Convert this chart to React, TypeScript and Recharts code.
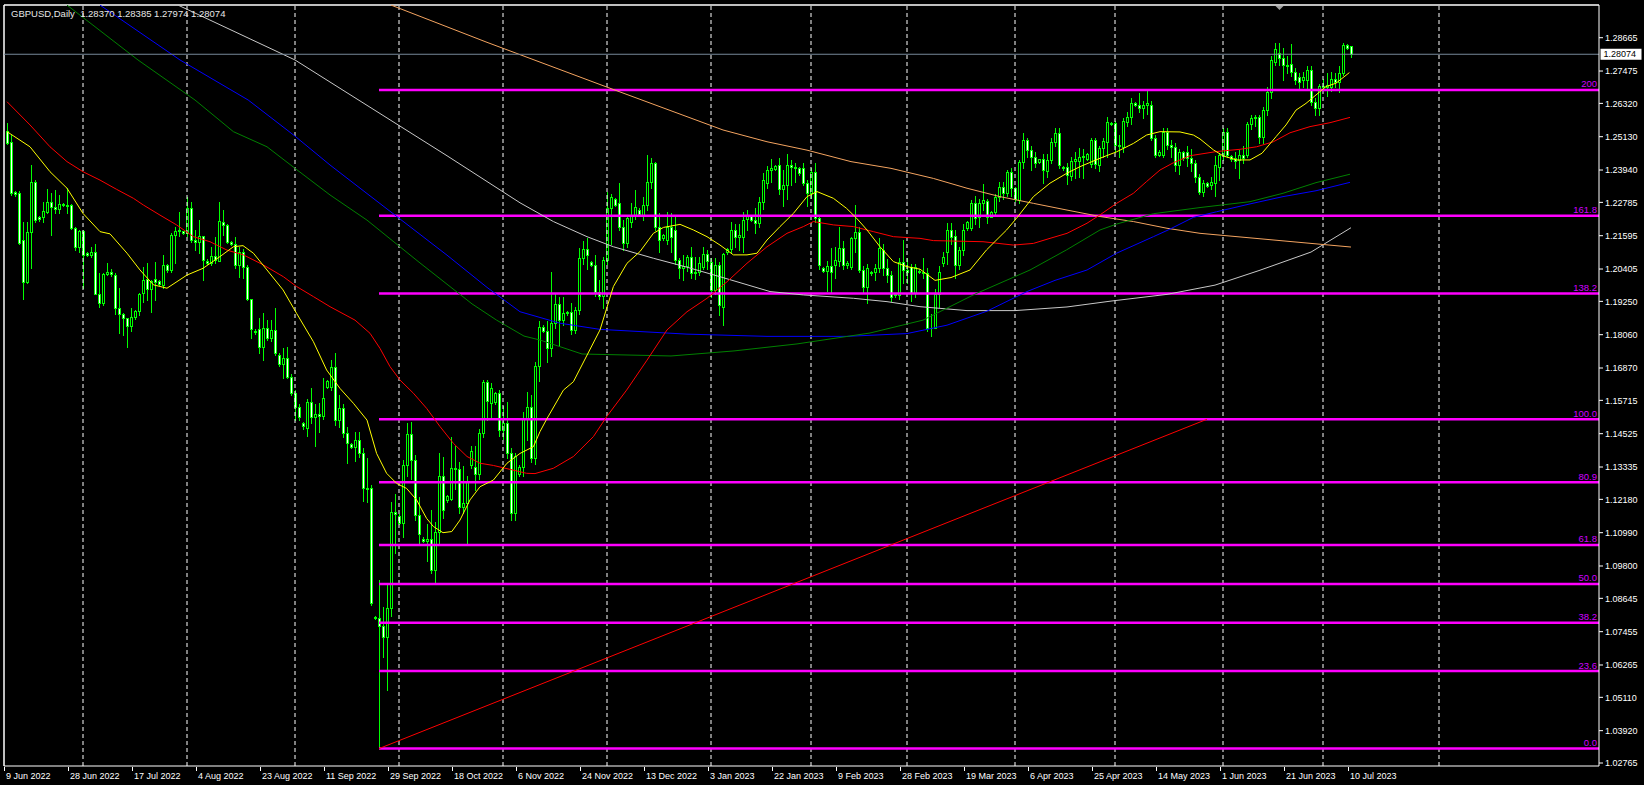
import React from 'react';
import { ComposedChart, Bar, Line, XAxis, YAxis, ReferenceLine } from 'recharts';

// ---------- layout constants ----------
const W = 1644;
const H = 785;
const X_MIN = -0.75;
const X_MAX = 398;
const Y_MIN = 1.02658;
const Y_MAX = 1.29833;
const PLOT_BOTTOM = 766;
const FONT = '"Liberation Sans", Arial, sans-serif';

// ---------- daily candles (bar index 0 = 9 Jun 2022 ... 336 = 10 Jul 2023) ----------
const OPEN = [
  1.2535, 1.2495, 1.2316, 1.2313, 1.2144, 1.1995, 1.2174, 1.2353, 1.2225, 1.2225,
  1.2245, 1.2281, 1.2263, 1.2254, 1.2272, 1.2268, 1.2269, 1.2186, 1.2120, 1.2176,
  1.2098, 1.2092, 1.2100, 1.1953, 1.1918, 1.2023, 1.2030, 1.2020, 1.1900, 1.1880,
  1.1866, 1.1838, 1.1868, 1.1892, 1.1954, 1.2004, 1.1968, 1.2004, 1.1998, 1.1983,
  1.2055, 1.2037, 1.2162, 1.2180, 1.2175, 1.2168, 1.2257, 1.2144, 1.2138, 1.2158,
  1.2068, 1.2061, 1.2087, 1.2069, 1.2209, 1.2198, 1.2138, 1.2129, 1.2055, 1.2103,
  1.2049, 1.1932, 1.1820, 1.1825, 1.1763, 1.1829, 1.1793, 1.1823, 1.1735, 1.1700,
  1.1721, 1.1656, 1.1596, 1.1546, 1.1490, 1.1472, 1.1567, 1.1511, 1.1521, 1.1517,
  1.1620, 1.1620, 1.1689, 1.1503, 1.1543, 1.1454, 1.1415, 1.1405, 1.1430, 1.1382,
  1.1260, 1.1257, 1.0799, 1.0793, 1.0764, 1.0726, 1.0829, 1.1174, 1.1159, 1.1135,
  1.1341, 1.1450, 1.1358, 1.1162, 1.1078, 1.1070, 1.1078, 1.0966, 1.1100, 1.1301,
  1.1215, 1.1220, 1.1331, 1.1325, 1.1190, 1.1205, 1.1340, 1.1335, 1.1308, 1.1456,
  1.1638, 1.1563, 1.1567, 1.1596, 1.1465, 1.1489, 1.1382, 1.1170, 1.1307, 1.1334,
  1.1510, 1.1549, 1.1367, 1.1694, 1.1834, 1.1820, 1.1760, 1.1847, 1.1915, 1.1859,
  1.1882, 1.1888, 1.1823, 1.1894, 1.2079, 1.2112, 1.2064, 1.2055, 1.1960, 1.1944,
  1.2073, 1.2257, 1.2290, 1.2275, 1.2192, 1.2132, 1.2210, 1.2234, 1.2251, 1.2234,
  1.2269, 1.2352, 1.2418, 1.2189, 1.2150, 1.2144, 1.2192, 1.2180, 1.2073, 1.2043,
  1.2050, 1.2085, 1.2025, 1.2030, 1.2049, 1.2094, 1.2067, 1.1966, 1.2055, 1.1906,
  1.2100, 1.2112, 1.2180, 1.2154, 1.2156, 1.2218, 1.2230, 1.2215, 1.2206, 1.2281,
  1.2347, 1.2394, 1.2397, 1.2412, 1.2325, 1.2340, 1.2412, 1.2405, 1.2400, 1.2400,
  1.2349, 1.2311, 1.2388, 1.2222, 1.2043, 1.2035, 1.2052, 1.2055, 1.2070, 1.2114,
  1.2055, 1.2049, 1.2150, 1.2174, 1.2037, 1.1978, 1.2031, 1.2031, 1.2043, 1.2108,
  1.2043, 1.2019, 1.1951, 1.1948, 1.2067, 1.2037, 1.2049, 1.1954, 1.2035, 1.2030,
  1.2025, 1.1830, 1.1830, 1.1950, 1.2061, 1.2100, 1.2180, 1.2159, 1.2055, 1.2109,
  1.2186, 1.2186, 1.2275, 1.2225, 1.2278, 1.2283, 1.2228, 1.2245, 1.2299, 1.2335,
  1.2311, 1.2388, 1.2329, 1.2287, 1.2424, 1.2501, 1.2465, 1.2439, 1.2424, 1.2432,
  1.2392, 1.2430, 1.2495, 1.2528, 1.2406, 1.2406, 1.2373, 1.2428, 1.2428, 1.2439,
  1.2432, 1.2416, 1.2501, 1.2412, 1.2471, 1.2495, 1.2561, 1.2561, 1.2483, 1.2477,
  1.2567, 1.2585, 1.2635, 1.2626, 1.2614, 1.2626, 1.2626, 1.2507, 1.2448, 1.2448,
  1.2531, 1.2483, 1.2477, 1.2412, 1.2460, 1.2460, 1.2436, 1.2418, 1.2370, 1.2317,
  1.2347, 1.2340, 1.2347, 1.2406, 1.2448, 1.2531, 1.2444, 1.2436, 1.2430, 1.2448,
  1.2448, 1.2558, 1.2579, 1.2582, 1.2513, 1.2608, 1.2674, 1.2781, 1.2813, 1.2793,
  1.2769, 1.2771, 1.2745, 1.2725, 1.2716, 1.2716, 1.2751, 1.2638, 1.2614, 1.2694,
  1.2690, 1.2692, 1.2718, 1.2710, 1.2742, 1.2840, 1.28370,
];
const HIGH = [
  1.2563, 1.2519, 1.2320, 1.2318, 1.2210, 1.2210, 1.2412, 1.2358, 1.2230, 1.2281,
  1.2325, 1.2311, 1.2323, 1.2305, 1.2275, 1.2330, 1.2273, 1.2192, 1.2180, 1.2180,
  1.2100, 1.2120, 1.2130, 1.2025, 1.2025, 1.2061, 1.2040, 1.2025, 1.1972, 1.1882,
  1.1866, 1.1900, 1.1895, 1.1956, 1.2049, 1.2063, 1.2001, 1.2067, 1.2000, 1.2090,
  1.2060, 1.2168, 1.2192, 1.2245, 1.2178, 1.2299, 1.2281, 1.2180, 1.2216, 1.2160,
  1.2075, 1.2120, 1.2156, 1.2281, 1.2251, 1.2203, 1.2140, 1.2156, 1.2120, 1.2111,
  1.2055, 1.1935, 1.1825, 1.1864, 1.1882, 1.1858, 1.1860, 1.1900, 1.1740, 1.1760,
  1.1763, 1.1665, 1.1610, 1.1560, 1.1495, 1.1575, 1.1614, 1.1560, 1.1561, 1.1650,
  1.1645, 1.1715, 1.1739, 1.1590, 1.1560, 1.1475, 1.1420, 1.1460, 1.1458, 1.1400,
  1.1364, 1.1270, 1.0800, 1.0930, 1.0835, 1.0918, 1.1210, 1.1238, 1.1165, 1.1359,
  1.1490, 1.1495, 1.1378, 1.1226, 1.1085, 1.1130, 1.1180, 1.1138, 1.1382, 1.1370,
  1.1235, 1.1440, 1.1410, 1.1350, 1.1337, 1.1300, 1.1410, 1.1410, 1.1470, 1.1645,
  1.1645, 1.1635, 1.1600, 1.1610, 1.1550, 1.1565, 1.1400, 1.1385, 1.1340, 1.1530,
  1.1602, 1.1590, 1.1710, 1.1855, 1.1840, 1.1855, 1.2030, 1.1954, 1.1940, 1.1940,
  1.1890, 1.1918, 1.1905, 1.2114, 1.2142, 1.2150, 1.2068, 1.2091, 1.2000, 1.2085,
  1.2316, 1.2310, 1.2295, 1.2349, 1.2215, 1.2235, 1.2275, 1.2323, 1.2260, 1.2299,
  1.2448, 1.2436, 1.2424, 1.2240, 1.2165, 1.2245, 1.2240, 1.2228, 1.2079, 1.2090,
  1.2090, 1.2120, 1.2085, 1.2085, 1.2120, 1.2110, 1.2080, 1.2080, 1.2065, 1.2097,
  1.2115, 1.2210, 1.2200, 1.2200, 1.2245, 1.2251, 1.2235, 1.2260, 1.2299, 1.2382,
  1.2410, 1.2435, 1.2412, 1.2436, 1.2395, 1.2451, 1.2430, 1.2418, 1.2405, 1.2418,
  1.2360, 1.2400, 1.2418, 1.2230, 1.2048, 1.2070, 1.2114, 1.2120, 1.2190, 1.2140,
  1.2068, 1.2155, 1.2269, 1.2190, 1.2050, 1.2060, 1.2035, 1.2060, 1.2150, 1.2130,
  1.2075, 1.2035, 1.1955, 1.2080, 1.2144, 1.2080, 1.2060, 1.2060, 1.2040, 1.2080,
  1.2045, 1.1880, 1.1970, 1.2050, 1.2100, 1.2205, 1.2205, 1.2180, 1.2120, 1.2200,
  1.2212, 1.2287, 1.2300, 1.2290, 1.2343, 1.2290, 1.2248, 1.2310, 1.2353, 1.2350,
  1.2394, 1.2400, 1.2332, 1.2430, 1.2525, 1.2510, 1.2480, 1.2460, 1.2435, 1.2452,
  1.2450, 1.2510, 1.2543, 1.2545, 1.2410, 1.2420, 1.2440, 1.2460, 1.2471, 1.2470,
  1.2455, 1.2510, 1.2510, 1.2480, 1.2510, 1.2585, 1.2565, 1.2570, 1.2520, 1.2580,
  1.2600, 1.2650, 1.2638, 1.2668, 1.2640, 1.2682, 1.2640, 1.2520, 1.2465, 1.2545,
  1.2545, 1.2500, 1.2490, 1.2470, 1.2462, 1.2480, 1.2470, 1.2430, 1.2380, 1.2360,
  1.2350, 1.2370, 1.2445, 1.2455, 1.2545, 1.2545, 1.2448, 1.2460, 1.2465, 1.2480,
  1.2565, 1.2590, 1.2590, 1.2590, 1.2620, 1.2690, 1.2800, 1.2849, 1.2848, 1.2830,
  1.2800, 1.2844, 1.2760, 1.2740, 1.2745, 1.2765, 1.2765, 1.2650, 1.2700, 1.2720,
  1.2740, 1.2745, 1.2740, 1.2765, 1.2848, 1.2845, 1.28385,
];
const LOW = [
  1.2488, 1.2305, 1.2303, 1.2130, 1.1933, 1.1990, 1.2043, 1.2210, 1.2212, 1.2210,
  1.2240, 1.2162, 1.2240, 1.2240, 1.2265, 1.2240, 1.2183, 1.2108, 1.2103, 1.1972,
  1.2088, 1.2085, 1.1950, 1.1906, 1.1912, 1.2019, 1.2017, 1.1880, 1.1811, 1.1805,
  1.1761, 1.1820, 1.1862, 1.1876, 1.1924, 1.1930, 1.1888, 1.1930, 1.1985, 1.1972,
  1.2030, 1.2031, 1.2062, 1.2160, 1.2165, 1.2160, 1.2138, 1.2110, 1.2097, 1.2001,
  1.2060, 1.2055, 1.2061, 1.2069, 1.2162, 1.2135, 1.2125, 1.2043, 1.2013, 1.2007,
  1.1930, 1.1793, 1.1810, 1.1740, 1.1716, 1.1787, 1.1785, 1.1735, 1.1695, 1.1650,
  1.1650, 1.1590, 1.1500, 1.1500, 1.1470, 1.1444, 1.1490, 1.1410, 1.1460, 1.1505,
  1.1615, 1.1610, 1.1483, 1.1475, 1.1440, 1.1347, 1.1400, 1.1356, 1.1370, 1.1212,
  1.1210, 1.0840, 1.0790, 1.0335, 1.0656, 1.0537, 1.0800, 1.1025, 1.1130, 1.1085,
  1.1300, 1.1290, 1.1145, 1.1055, 1.1065, 1.0999, 1.0954, 1.0924, 1.1061, 1.1150,
  1.1210, 1.1215, 1.1255, 1.1170, 1.1170, 1.1061, 1.1330, 1.1250, 1.1290, 1.1440,
  1.1502, 1.1508, 1.1560, 1.1445, 1.1435, 1.1365, 1.1145, 1.1145, 1.1300, 1.1300,
  1.1430, 1.1350, 1.1345, 1.1640, 1.1815, 1.1710, 1.1730, 1.1830, 1.1765, 1.1840,
  1.1875, 1.1810, 1.1812, 1.1880, 1.2060, 1.2040, 1.2050, 1.1945, 1.1935, 1.1900,
  1.2060, 1.2130, 1.2265, 1.2180, 1.2110, 1.2120, 1.2190, 1.2220, 1.2235, 1.2215,
  1.2250, 1.2330, 1.2180, 1.2100, 1.2145, 1.2130, 1.2100, 1.2060, 1.2007, 1.2000,
  1.2035, 1.2010, 1.2005, 1.2020, 1.2040, 1.2040, 1.1940, 1.1950, 1.1876, 1.1841,
  1.2095, 1.2100, 1.2120, 1.2110, 1.2100, 1.2180, 1.2212, 1.2170, 1.2190, 1.2255,
  1.2330, 1.2350, 1.2395, 1.2310, 1.2265, 1.2290, 1.2340, 1.2350, 1.2378, 1.2340,
  1.2265, 1.2295, 1.2210, 1.2040, 1.2030, 1.1962, 1.1960, 1.2010, 1.2050, 1.2040,
  1.2045, 1.2040, 1.2100, 1.2030, 1.1960, 1.1918, 1.2020, 1.2000, 1.2030, 1.2020,
  1.1995, 1.1925, 1.1940, 1.1935, 1.1990, 1.1990, 1.1925, 1.1940, 1.2025, 1.2010,
  1.1818, 1.1802, 1.1830, 1.1905, 1.2050, 1.2060, 1.2130, 1.2010, 1.2040, 1.2090,
  1.2180, 1.2180, 1.2200, 1.2190, 1.2250, 1.2205, 1.2225, 1.2230, 1.2285, 1.2290,
  1.2300, 1.2300, 1.2285, 1.2275, 1.2400, 1.2440, 1.2394, 1.2405, 1.2420, 1.2347,
  1.2370, 1.2420, 1.2480, 1.2400, 1.2395, 1.2345, 1.2360, 1.2365, 1.2370, 1.2366,
  1.2430, 1.2405, 1.2400, 1.2390, 1.2440, 1.2440, 1.2555, 1.2460, 1.2440, 1.2460,
  1.2550, 1.2560, 1.2624, 1.2600, 1.2580, 1.2595, 1.2500, 1.2440, 1.2445, 1.2440,
  1.2470, 1.2440, 1.2390, 1.2380, 1.2430, 1.2410, 1.2390, 1.2350, 1.2308, 1.2300,
  1.2335, 1.2325, 1.2300, 1.2360, 1.2430, 1.2440, 1.2428, 1.2400, 1.2365, 1.2420,
  1.2440, 1.2540, 1.2550, 1.2490, 1.2490, 1.2590, 1.2650, 1.2770, 1.2770, 1.2716,
  1.2740, 1.2730, 1.2700, 1.2685, 1.2690, 1.2680, 1.2625, 1.2590, 1.2590, 1.2680,
  1.2660, 1.2675, 1.2690, 1.2674, 1.2735, 1.2825, 1.27974,
];
const CLOSE = [
  1.2492, 1.2311, 1.2310, 1.2135, 1.1995, 1.2174, 1.2353, 1.2215, 1.2218, 1.2248,
  1.2281, 1.2263, 1.2254, 1.2273, 1.2268, 1.2265, 1.2186, 1.2120, 1.2176, 1.2091,
  1.2092, 1.2100, 1.1953, 1.1918, 1.2023, 1.2030, 1.2022, 1.1900, 1.1880, 1.1866,
  1.1838, 1.1868, 1.1892, 1.1951, 1.2001, 1.1968, 1.1998, 1.1995, 1.1986, 1.2055,
  1.2037, 1.2162, 1.2176, 1.2175, 1.2170, 1.2257, 1.2144, 1.2138, 1.2158, 1.2073,
  1.2063, 1.2087, 1.2073, 1.2213, 1.2198, 1.2138, 1.2129, 1.2055, 1.2103, 1.2049,
  1.1932, 1.1825, 1.1817, 1.1763, 1.1829, 1.1793, 1.1823, 1.1740, 1.1700, 1.1721,
  1.1656, 1.1596, 1.1546, 1.1513, 1.1480, 1.1567, 1.1511, 1.1521, 1.1517, 1.1580,
  1.1640, 1.1689, 1.1503, 1.1543, 1.1454, 1.1420, 1.1405, 1.1430, 1.1382, 1.1257,
  1.1255, 1.0849, 1.0793, 1.0764, 1.0726, 1.0829, 1.1174, 1.1165, 1.1135, 1.1341,
  1.1450, 1.1358, 1.1162, 1.1094, 1.1070, 1.1078, 1.0966, 1.1100, 1.1301, 1.1180,
  1.1230, 1.1331, 1.1325, 1.1190, 1.1205, 1.1280, 1.1390, 1.1308, 1.1456, 1.1638,
  1.1569, 1.1614, 1.1596, 1.1465, 1.1489, 1.1382, 1.1170, 1.1373, 1.1334, 1.1510,
  1.1549, 1.1367, 1.1694, 1.1834, 1.1820, 1.1760, 1.1847, 1.1915, 1.1859, 1.1885,
  1.1888, 1.1823, 1.1894, 1.2079, 1.2112, 1.2091, 1.2055, 1.1960, 1.1944, 1.2073,
  1.2257, 1.2299, 1.2269, 1.2192, 1.2132, 1.2222, 1.2234, 1.2263, 1.2238, 1.2269,
  1.2352, 1.2418, 1.2192, 1.2144, 1.2162, 1.2192, 1.2156, 1.2073, 1.2043, 1.2050,
  1.2085, 1.2025, 1.2030, 1.2061, 1.2094, 1.2070, 1.1966, 1.2055, 1.1912, 1.2094,
  1.2112, 1.2180, 1.2154, 1.2162, 1.2216, 1.2234, 1.2215, 1.2206, 1.2281, 1.2358,
  1.2394, 1.2400, 1.2408, 1.2325, 1.2340, 1.2412, 1.2405, 1.2400, 1.2382, 1.2349,
  1.2311, 1.2388, 1.2222, 1.2055, 1.2035, 1.2052, 1.2030, 1.2073, 1.2114, 1.2055,
  1.2063, 1.2150, 1.2174, 1.2037, 1.1978, 1.2043, 1.2025, 1.2043, 1.2114, 1.2043,
  1.2019, 1.1942, 1.1948, 1.2067, 1.2037, 1.2031, 1.1954, 1.2049, 1.2030, 1.2025,
  1.1830, 1.1830, 1.1950, 1.2030, 1.2085, 1.2180, 1.2156, 1.2055, 1.2109, 1.2180,
  1.2210, 1.2275, 1.2222, 1.2278, 1.2287, 1.2228, 1.2245, 1.2299, 1.2335, 1.2311,
  1.2388, 1.2329, 1.2290, 1.2424, 1.2501, 1.2465, 1.2439, 1.2420, 1.2432, 1.2394,
  1.2430, 1.2495, 1.2528, 1.2412, 1.2400, 1.2376, 1.2428, 1.2432, 1.2439, 1.2444,
  1.2451, 1.2501, 1.2416, 1.2471, 1.2498, 1.2567, 1.2558, 1.2483, 1.2480, 1.2569,
  1.2585, 1.2635, 1.2626, 1.2614, 1.2626, 1.2632, 1.2510, 1.2448, 1.2460, 1.2531,
  1.2483, 1.2477, 1.2412, 1.2460, 1.2436, 1.2436, 1.2418, 1.2370, 1.2317, 1.2347,
  1.2338, 1.2350, 1.2412, 1.2448, 1.2531, 1.2448, 1.2432, 1.2428, 1.2448, 1.2436,
  1.2558, 1.2579, 1.2582, 1.2513, 1.2608, 1.2674, 1.2787, 1.2825, 1.2793, 1.2769,
  1.2764, 1.2745, 1.2715, 1.2710, 1.2725, 1.2751, 1.2638, 1.2614, 1.2694, 1.2690,
  1.2697, 1.2718, 1.2710, 1.2742, 1.2840, 1.2829, 1.28074,
];

// ---------- moving averages as [bar index, price] ----------
const MA_YELLOW: [number, number][] = [
  [0, 1.2531], [5.75, 1.2477], [10.75, 1.2388], [15, 1.2329], [19, 1.2239], [23.25, 1.2174], [25.75, 1.2166],
  [30, 1.2097], [33.25, 1.2037], [36.6, 1.1984], [40, 1.1972], [45, 1.2019], [49, 1.2043], [53.25, 1.2085],
  [56.6, 1.2120], [59, 1.2124], [61.6, 1.2097], [65, 1.2037], [69, 1.1966], [72.4, 1.1882], [76.6, 1.1781],
  [79.9, 1.1680], [83.25, 1.1614], [86.6, 1.1561], [90, 1.1501], [92.4, 1.1382], [94.9, 1.1311], [97.4, 1.1275],
  [99.9, 1.1257], [102.4, 1.1216], [104.9, 1.1150], [106.6, 1.1121], [109, 1.1099], [111.2, 1.1103],
  [113.25, 1.1144], [115.75, 1.1216], [118.25, 1.1263], [121.6, 1.1287], [125, 1.1347], [128.25, 1.1382],
  [131.6, 1.1406], [133.25, 1.1460], [134.9, 1.1504], [139.1, 1.1608], [141.6, 1.1638], [148.25, 1.1823],
  [151.6, 1.1978], [155, 1.2061], [158.25, 1.2103], [161.6, 1.2168], [164.1, 1.2189], [168.25, 1.2200],
  [171.6, 1.2180], [175, 1.2156], [178.25, 1.2126], [181.6, 1.2091], [185, 1.2091], [187.5, 1.2097],
  [190, 1.2144], [193.25, 1.2192], [196.6, 1.2239], [200, 1.2299], [202.5, 1.2317], [206.6, 1.2293],
  [209.9, 1.2257], [212.4, 1.2222], [215, 1.2180], [218.25, 1.2120], [221.6, 1.2067], [225, 1.2049],
  [228.25, 1.2040], [232, 1.2000], [236, 1.2010], [240.75, 1.2037], [244.9, 1.2109], [249.9, 1.2180],
  [252.4, 1.2222], [256.6, 1.2299], [260.75, 1.2347], [264.9, 1.2382], [268.25, 1.2406], [273.25, 1.2436],
  [277.4, 1.2459], [281.6, 1.2489], [284.9, 1.2519], [288.25, 1.2531], [293.25, 1.2530], [296.6, 1.2519],
  [298.25, 1.2505], [301.6, 1.2466], [304.1, 1.2444], [307.4, 1.2430], [310.75, 1.2430], [313.75, 1.2454],
  [317.25, 1.2513], [319.75, 1.2555], [322.25, 1.2608], [324.75, 1.2632], [327.25, 1.2662], [329.75, 1.2692],
  [332.25, 1.2704], [335.6, 1.2742],
];
const MA_RED: [number, number][] = [
  [0, 1.2638], [5.75, 1.2555], [10.75, 1.2477], [15, 1.2424], [19, 1.2388], [23.25, 1.2358], [27.4, 1.2325],
  [31.6, 1.2293], [34.1, 1.2269], [38.25, 1.2233], [42.4, 1.2198], [46.6, 1.2156], [50.75, 1.2138], [55, 1.2108],
  [59.1, 1.2091], [64.1, 1.2055], [69.1, 1.2013], [72.4, 1.1978], [76.6, 1.1942], [80.75, 1.1906], [87, 1.1858],
  [90.75, 1.1811], [93.25, 1.1757], [95.75, 1.1692], [98.25, 1.1644], [101.6, 1.1597], [104.9, 1.1543],
  [108.25, 1.1478], [111.6, 1.1418], [115, 1.1371], [118.25, 1.1347], [121.6, 1.1339], [125.75, 1.1325],
  [129.9, 1.1311], [132, 1.1310], [136.6, 1.1329], [141.6, 1.1371], [146.6, 1.1442], [149.9, 1.1513],
  [154.9, 1.1608], [160, 1.1715], [165, 1.1823], [170, 1.1888], [175, 1.1936], [180, 1.1995], [185, 1.2061],
  [190, 1.2120], [195, 1.2168], [199.1, 1.2192], [201.6, 1.2210], [206.6, 1.2198], [211.6, 1.2192],
  [216.6, 1.2174], [221.6, 1.2156], [228.25, 1.2150], [231.6, 1.2142], [244, 1.2138], [251.6, 1.2126],
  [256.6, 1.2132], [260.75, 1.2150], [265, 1.2168], [270, 1.2204], [273.25, 1.2234], [277.4, 1.2275],
  [281.6, 1.2311], [284.9, 1.2353], [288.25, 1.2394], [291.6, 1.2420], [295.75, 1.2445], [302.4, 1.2460],
  [308.25, 1.2468], [312.4, 1.2477], [316.6, 1.2495], [320.75, 1.2527], [325.75, 1.2549], [330.75, 1.2563],
  [335.75, 1.2582],
];
const MA_GREEN: [number, number][] = [
  [15, 1.2983], [32.75, 1.2787], [47, 1.2644], [56.6, 1.2531], [65, 1.2477], [72, 1.2400], [80.75, 1.2305],
  [90, 1.2215], [103, 1.2065], [116.25, 1.1916], [122.4, 1.1858], [129.25, 1.1801], [133.25, 1.1787],
  [143.75, 1.1737], [166, 1.1730], [181.75, 1.1748], [197.5, 1.1773], [215.75, 1.1812], [229, 1.1858],
  [242, 1.1951], [255.75, 1.2037], [264.9, 1.2109], [273.25, 1.2180], [277.4, 1.2201], [286.6, 1.2238],
  [298.25, 1.2260], [310.75, 1.2281], [319, 1.2311], [327.25, 1.2349], [335.75, 1.2379],
];
const MA_BLUE: [number, number][] = [
  [23.25, 1.2983], [43.25, 1.2787], [60.3, 1.2644], [72, 1.2515], [80.75, 1.2412], [90, 1.2310], [100, 1.2200],
  [110, 1.2090], [120, 1.1975], [128.25, 1.1888], [138.25, 1.1847], [148.25, 1.1825], [170, 1.1808],
  [190, 1.1800], [210, 1.1800], [225, 1.1810], [235, 1.1840], [245, 1.1890], [255, 1.1960], [262, 1.2000],
  [270, 1.2037], [277.4, 1.2097], [286.6, 1.2156], [290.3, 1.2180], [296.6, 1.2225], [302.4, 1.2245],
  [310.75, 1.2273], [319, 1.2299], [327.25, 1.2320], [335.75, 1.2350],
];
const MA_SILVER: [number, number][] = [
  [42.75, 1.2983], [72, 1.2787], [90, 1.2625], [110, 1.2445], [128.25, 1.2277], [136.6, 1.2210], [145, 1.2156],
  [151.6, 1.2120], [161.6, 1.2079], [170, 1.2047], [178.25, 1.2013], [190.75, 1.1960], [199.1, 1.1948],
  [211.6, 1.1936], [220, 1.1924], [228.25, 1.1906], [240, 1.1892], [252, 1.1892], [265, 1.1905], [276, 1.1926],
  [290, 1.1950], [302, 1.1983], [313, 1.2035], [326, 1.2101], [336, 1.2188],
];
const MA_SANDY: [number, number][] = [
  [96, 1.2983], [120, 1.2850], [150, 1.2690], [179, 1.2537], [190, 1.2495], [200, 1.2465], [211, 1.2424],
  [221, 1.2400], [231.6, 1.2364], [240, 1.2329], [248.25, 1.2299], [256.6, 1.2275], [265, 1.2251],
  [273.25, 1.2228], [281.6, 1.2210], [290, 1.2186], [298.25, 1.2168], [336, 1.2119],
];

// ---------- Fibonacci retracement ----------
const FIB_START = 93;
const FIB_LEVELS: [string, number][] = [
  ['0.0', 1.0328], ['23.6', 1.0605], ['38.2', 1.0777], ['50.0', 1.0916], ['61.8', 1.1055],
  ['80.9', 1.1279], ['100.0', 1.1504], ['138.2', 1.1953], ['161.8', 1.2231], ['200', 1.2680],
];
const FIB_TREND: [number, number][] = [[93, 1.0328], [300, 1.1504]];

// ---------- axes ----------
const Y_TICKS = [
  1.28665, 1.27475, 1.2632, 1.2513, 1.2394, 1.22785, 1.21595, 1.20405, 1.1925, 1.1806, 1.1687, 1.15715,
  1.14525, 1.13335, 1.1218, 1.1099, 1.098, 1.08645, 1.07455, 1.06265, 1.0511, 1.0392, 1.02765,
];
const DATE_LABELS: [number, string][] = [
  [0, '9 Jun 2022'], [16, '28 Jun 2022'], [32, '17 Jul 2022'], [48, '4 Aug 2022'], [64, '23 Aug 2022'],
  [80, '11 Sep 2022'], [96, '29 Sep 2022'], [112, '18 Oct 2022'], [128, '6 Nov 2022'], [144, '24 Nov 2022'],
  [160, '13 Dec 2022'], [176, '3 Jan 2023'], [192, '22 Jan 2023'], [208, '9 Feb 2023'], [224, '28 Feb 2023'],
  [240, '19 Mar 2023'], [256, '6 Apr 2023'], [272, '25 Apr 2023'], [288, '14 May 2023'], [304, '1 Jun 2023'],
  [320, '21 Jun 2023'], [336, '10 Jul 2023'],
];
const MONTH_GRID = [19, 45, 72, 98, 124, 150, 176, 201, 225, 252, 277, 304, 329, 358];

const SYMBOL = 'GBPUSD,Daily';

// ---------- derived structures ----------
const candles = OPEN.map((o, i) => ({ i, open: o, high: HIGH[i], low: LOW[i], close: CLOSE[i] }));
const toLine = (pts: [number, number][]) => pts.map(([i, v]) => ({ i, v }));
const LAST = OPEN.length - 1;
const dateMap = new Map(DATE_LABELS);

const Candle = (props: any) => {
  const { x, y, width, height, payload } = props;
  if (!payload || x == null || y == null) return null;
  const { open, high, low, close } = payload;
  const top = Math.min(y, y + height);
  const h = Math.abs(height);
  const range = high - low;
  const k = range > 0 ? h / range : 0;
  const yOf = (v: number) => top + (high - v) * k;
  const cx = Math.round(x + width / 2 + 0.25) + 0.5;
  const yh = Math.round(yOf(high));
  const yl = Math.round(yOf(low));
  const bt = Math.round(yOf(Math.max(open, close)));
  const bb = Math.round(yOf(Math.min(open, close)));
  const bh = Math.max(1, bb - bt + 1);
  const bull = close >= open;
  return (
    <g>
      <rect x={cx - 0.5} y={yh} width={1} height={Math.max(1, yl - yh + 1)} fill="#00FF00" />
      <rect x={cx - 1.5} y={bt} width={3} height={bh} fill="#00FF00" />
      {bh >= 3 && <rect x={cx - 0.5} y={bt + 1} width={1} height={bh - 2} fill={bull ? '#000000' : '#FFFFFF'} />}
    </g>
  );
};

const DateTick = (props: any) => {
  const { x, payload } = props;
  const label = dateMap.get(payload.value);
  if (label == null) return null;
  const px = Math.round(x);
  return (
    <g>
      <rect x={px - 3} y={PLOT_BOTTOM + 1} width={1} height={4} fill="#FFFFFF" />
      <text x={px - 1} y={PLOT_BOTTOM + 13} fill="#FFFFFF" fontSize={9} fontFamily={FONT} textAnchor="start">
        {label}
      </text>
    </g>
  );
};

const fibLabel = (text: string) => (props: any) => {
  const vb = props.viewBox || {};
  const right = (vb.x || 0) + (vb.width || 0);
  return (
    <text x={right - 2} y={(vb.y || 0) - 2.5} textAnchor="end" fill="#D000FF" fontSize={9.5} fontFamily={FONT}>
      {text}
    </text>
  );
};

const priceLabel = (props: any) => {
  const vb = props.viewBox || {};
  const x = (vb.x || 0) + (vb.width || 0) + 1.5;
  const y = vb.y || 0;
  return (
    <g>
      <rect x={x} y={y - 5.5} width={41} height={11} fill="#FFFFFF" />
      <text x={x + 3} y={y + 3.2} fill="#000000" fontSize={9} fontFamily={FONT}>
        {CLOSE[LAST].toFixed(5)}
      </text>
    </g>
  );
};

const ShiftMarker = (props: any) => {
  const vb = props.viewBox || {};
  const x = Math.round(vb.x || 0) + 0.5;
  const y = 6;
  return <polygon points={`${x - 4},${y} ${x + 4},${y} ${x},${y + 4}`} fill="#A0A0A0" />;
};

const MA_LINES: [string, [number, number][]][] = [
  ['#C8C8C8', MA_SILVER],
  ['#F4A460', MA_SANDY],
  ['#0000FF', MA_BLUE],
  ['#008000', MA_GREEN],
  ['#FF0000', MA_RED],
  ['#FFFF00', MA_YELLOW],
];

export default function App() {
  const header = `${SYMBOL}  ${OPEN[LAST].toFixed(5)} ${HIGH[LAST].toFixed(5)} ${LOW[LAST].toFixed(5)} ${CLOSE[LAST].toFixed(5)}`;
  return (
    <div style={{ position: 'fixed', left: 0, top: 0, width: W, height: H, background: '#000000', overflow: 'hidden' }}>
      <ComposedChart
        width={W}
        height={H}
        data={candles}
        margin={{ top: 5, right: 0, bottom: 0, left: 4 }}
        style={{ background: '#000000' }}
      >
        <XAxis
          type="number"
          dataKey="i"
          domain={[X_MIN, X_MAX]}
          allowDataOverflow
          ticks={DATE_LABELS.map((d) => d[0])}
          interval={0}
          height={19}
          tickLine={false}
          axisLine={{ stroke: '#FFFFFF' }}
          tick={<DateTick />}
        />
        <YAxis
          type="number"
          orientation="right"
          domain={[Y_MIN, Y_MAX]}
          allowDataOverflow
          ticks={Y_TICKS}
          interval={0}
          width={45}
          tickSize={4}
          tickMargin={2}
          tickFormatter={(v: number) => v.toFixed(5)}
          axisLine={{ stroke: '#FFFFFF' }}
          tickLine={{ stroke: '#FFFFFF' }}
          tick={{ fill: '#FFFFFF', fontSize: 9, fontFamily: FONT }}
        />

        {MONTH_GRID.map((g) => (
          <ReferenceLine key={`g${g}`} x={g} stroke="#FFFFFF" strokeDasharray="4 3" strokeWidth={1} />
        ))}

        <ReferenceLine y={Y_MAX} stroke="#FFFFFF" strokeWidth={1.5} />
        <ReferenceLine x={X_MIN} stroke="#FFFFFF" strokeWidth={1.5} />

        {FIB_LEVELS.map(([name, lvl]) => (
          <ReferenceLine
            key={`f${name}`}
            segment={[{ x: FIB_START, y: lvl }, { x: X_MAX, y: lvl }]}
            stroke="#FF00FF"
            strokeWidth={2.5}
            label={fibLabel(name)}
          />
        ))}
        <ReferenceLine
          segment={[{ x: FIB_TREND[0][0], y: FIB_TREND[0][1] }, { x: FIB_TREND[1][0], y: FIB_TREND[1][1] }]}
          stroke="#FF0000"
          strokeWidth={1}
        />

        {MA_LINES.map(([color, pts]) => (
          <Line
            key={color}
            data={toLine(pts)}
            dataKey="v"
            type="linear"
            stroke={color}
            strokeWidth={1}
            dot={false}
            activeDot={false}
            isAnimationActive={false}
          />
        ))}

        <ReferenceLine y={CLOSE[LAST]} stroke="#778899" strokeWidth={1} label={priceLabel} />
        <ReferenceLine x={318} stroke="none" label={<ShiftMarker />} />

        <Bar
          dataKey={(d: any) => [d.low, d.high]}
          barSize={3}
          shape={<Candle />}
          isAnimationActive={false}
        />
      </ComposedChart>
      <div
        style={{
          position: 'absolute',
          left: 11,
          top: 8,
          color: '#E6E6E6',
          fontFamily: FONT,
          fontSize: 9.5,
          whiteSpace: 'pre',
          lineHeight: '12px',
        }}
      >
        {header}
      </div>
    </div>
  );
}
